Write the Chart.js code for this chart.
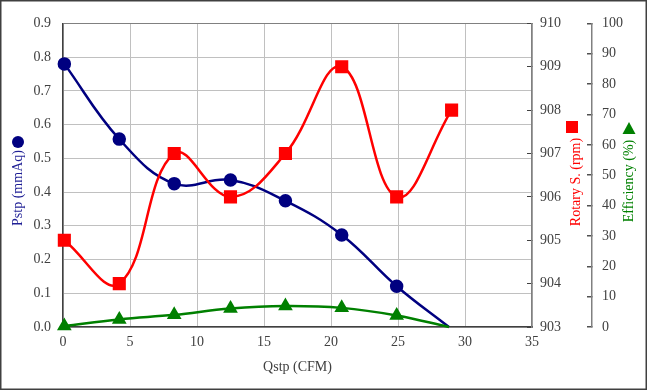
<!DOCTYPE html>
<html>
<head>
<meta charset="utf-8">
<script src="https://cdn.jsdelivr.net/npm/chart.js@4"></script>
<style>
  body { margin: 0; background: #fff; }
  canvas { display: block; }
</style>
</head>
<body>
<canvas id="fanChart" width="647" height="390"></canvas>
<script>
const qstp = [0.1, 4.2, 8.3, 12.5, 16.6, 20.8, 24.9, 28.8];
const qstpRpm = [0.1, 4.2, 8.3, 12.5, 16.6, 20.8, 24.9, 29.0];
const pstp = [0.78, 0.557, 0.425, 0.436, 0.374, 0.273, 0.121, 0];
const rotary = [905, 904, 907, 906, 907, 909, 906, 908];
const efficiency = [0.3, 2.5, 4.0, 6.1, 6.9, 6.3, 3.8, 0];

const FONT = "'Liberation Serif', 'Times New Roman', serif";

function toPoints(xs, ys) {
  return xs.map((x, i) => ({ x: x, y: ys[i] }));
}

// last point of pressure / efficiency has no marker in the original
const noLastMarker = (r, n) => Array.from({ length: n }, (_, i) => (i === n - 1 ? 0 : r));

const titlePlugin = {
  id: 'axisTitles',
  afterDraw(chart) {
    const ctx = chart.ctx;
    ctx.save();
    ctx.font = "14px " + FONT;
    ctx.textAlign = 'center';
    ctx.textBaseline = 'middle';

    function vText(text, x, y, color) {
      ctx.save();
      ctx.translate(x, y);
      ctx.rotate(-Math.PI / 2);
      ctx.fillStyle = color;
      ctx.fillText(text, 0, 0);
      ctx.restore();
    }

    // left: Pstp
    vText('Pstp (mmAq)', 18, 188, '#1f1f95');
    ctx.fillStyle = '#000080';
    ctx.beginPath();
    ctx.arc(18, 142, 6, 0, Math.PI * 2);
    ctx.fill();

    // right: Rotary S.
    vText('Rotary S. (rpm)', 576, 182, '#ff0000');
    ctx.fillStyle = '#ff0000';
    ctx.fillRect(566, 121, 12, 12);

    // right: Efficiency
    vText('Efficiency (%)', 629, 181, '#008000');
    ctx.fillStyle = '#008000';
    ctx.beginPath();
    ctx.moveTo(629, 122);
    ctx.lineTo(635.5, 134);
    ctx.lineTo(622.5, 134);
    ctx.closePath();
    ctx.fill();

    // outer frame
    ctx.strokeStyle = '#404040';
    ctx.lineWidth = 1.5;
    ctx.strokeRect(0.75, 0.75, 645.5, 388.5);
    ctx.restore();
  }
};

const ctx = document.getElementById('fanChart').getContext('2d');
const chart = new Chart(ctx, {
  type: 'line',
  data: {
    datasets: [
      {
        label: 'Pstp',
        data: toPoints(qstp, pstp),
        yAxisID: 'y',
        borderColor: '#000080',
        backgroundColor: '#000080',
        borderWidth: 2.5,
        pointStyle: 'circle',
        pointRadius: noLastMarker(5.5, pstp.length),
        tension: 0.4,
        clip: false,
        order: 3
      },
      {
        label: 'Rotary S.',
        data: toPoints(qstpRpm, rotary),
        yAxisID: 'y1',
        borderColor: '#ff0000',
        backgroundColor: '#ff0000',
        borderWidth: 2.5,
        pointStyle: 'rect',
        pointRadius: 7.5,
        tension: 0.4,
        clip: false,
        order: 2
      },
      {
        label: 'Efficiency',
        data: toPoints(qstp, efficiency),
        yAxisID: 'y2',
        borderColor: '#008000',
        backgroundColor: '#008000',
        borderWidth: 2.5,
        pointStyle: 'triangle',
        pointRadius: noLastMarker(6, efficiency.length),
        tension: 0.4,
        clip: false,
        order: 1
      }
    ]
  },
  options: {
    responsive: false,
    animation: false,
    devicePixelRatio: 1,
    layout: { padding: { top: 19, left: 0, right: 0, bottom: 0 } },
    plugins: {
      legend: { display: false },
      tooltip: { enabled: false }
    },
    scales: {
      x: {
        type: 'linear',
        position: 'bottom',
        min: 0,
        max: 35,
        ticks: {
          stepSize: 5,
          padding: 7,
          color: '#404040',
          font: { family: FONT, size: 14 }
        },
        grid: { color: '#c0c0c0', lineWidth: 1, drawTicks: false },
        border: { color: '#404040', width: 1.5 },
        title: {
          display: true,
          text: 'Qstp (CFM)',
          color: '#404040',
          font: { family: FONT, size: 14 },
          padding: { top: 0, bottom: 14 }
        },
        afterFit: (scale) => { scale.height = 63; }
      },
      y: {
        position: 'left',
        min: 0,
        max: 0.9,
        ticks: {
          stepSize: 0.1,
          padding: 12,
          color: '#404040',
          font: { family: FONT, size: 14 },
          callback: (v) => v.toFixed(1)
        },
        grid: {
          color: (c) => (c.index === 9 ? '#808080' : '#c0c0c0'),
          lineWidth: 1,
          drawTicks: false
        },
        border: { color: '#404040', width: 1.5 },
        afterFit: (scale) => { scale.width = 63; }
      },
      y1: {
        position: 'right',
        min: 903,
        max: 910,
        ticks: {
          stepSize: 1,
          padding: 13,
          color: '#404040',
          font: { family: FONT, size: 14 }
        },
        grid: { drawOnChartArea: false, tickLength: -5, color: '#404040' },
        border: { color: '#808080', width: 1.5 },
        afterFit: (scale) => { scale.width = 60; }
      },
      y2: {
        position: 'right',
        min: 0,
        max: 100,
        ticks: {
          stepSize: 10,
          padding: 15,
          color: '#404040',
          font: { family: FONT, size: 14 }
        },
        grid: { drawOnChartArea: false, tickLength: -5, color: '#505050', lineWidth: 1.5 },
        border: { color: '#808080', width: 1.5 },
        afterFit: (scale) => { scale.width = 55; }
      }
    }
  },
  plugins: [titlePlugin]
});
</script>
</body>
</html>
